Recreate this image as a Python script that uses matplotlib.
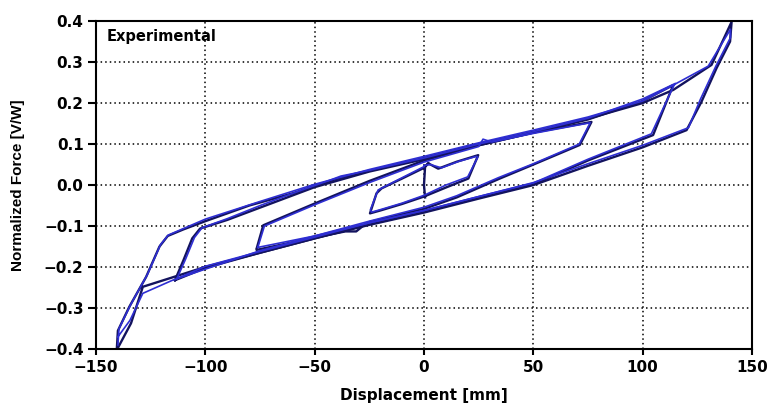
import numpy as np
import matplotlib.pyplot as plt

plt.rcParams['font.family'] = ['DejaVu Sans']
plt.rcParams['font.weight'] = 'bold'

# ±25 mm cycles
d25_a = [0.5, 0.0, 0.5, 2, 6.5, 15, 24.8, 20.3, 10, 0, -10, -20, -24.7, -21.7, -19.4, -10, 0, 2]
f25_a = [-0.03, 0.0, 0.045, 0.053, 0.04, 0.057, 0.073, 0.016, -0.006, -0.028, -0.046, -0.062, -0.069, -0.02, -0.008, 0.016, 0.042, 0.053]
d25_b = [0, 3, 8, 16, 24, 24.6, 20, 10, 0, -10, -20, -24, -24.5, -21, -10, 0]
f25_b = [0.048, 0.05, 0.042, 0.058, 0.07, 0.068, 0.02, 0.0, -0.025, -0.044, -0.06, -0.066, -0.06, -0.012, 0.018, 0.045]

# ±75 mm cycles
d75_a = [-76.5, -73.5, -50, -25, 0, 25, 50, 76.6, 71.3, 50, 34.7, 15, 0, -25, -28, -31, -36, -50, -76.5]
f75_a = [-0.154, -0.098, -0.045, 0.01, 0.06, 0.097, 0.128, 0.154, 0.098, 0.05, 0.016, -0.03, -0.058, -0.09, -0.1, -0.113, -0.113, -0.128, -0.158]
d75_b = [-76.0, -73.0, -50, -25, 0, 25, 27, 31, 50, 76.0, 71.0, 50, 34, 15, 0, -25, -50, -76.0]
f75_b = [-0.152, -0.1, -0.048, 0.006, 0.056, 0.094, 0.112, 0.105, 0.126, 0.152, 0.1, 0.052, 0.018, -0.026, -0.054, -0.088, -0.124, -0.152]

# ±115 mm cycles
d115_a = [-113.9, -110, -106, -102.4, -90, -75, -60, -50, -25, 0, 25, 50, 75, 100, 114, 104.8, 75, 50, 25, 0, -25, -50, -75, -100, -113.9]
f115_a = [-0.232, -0.183, -0.13, -0.106, -0.085, -0.055, -0.025, -0.005, 0.033, 0.063, 0.097, 0.128, 0.16, 0.205, 0.244, 0.122, 0.06, 0.002, -0.03, -0.065, -0.095, -0.13, -0.165, -0.202, -0.232]
d115_b = [-113.0, -109, -105, -101.5, -90, -75, -60, -43, -38, -25, 0, 25, 50, 75, 100, 115, 114, 104, 75, 50, 25, 0, -25, -50, -75, -100, -113.0]
f115_b = [-0.228, -0.18, -0.128, -0.104, -0.082, -0.05, -0.02, 0.012, 0.022, 0.036, 0.066, 0.1, 0.13, 0.163, 0.21, 0.248, 0.24, 0.125, 0.063, 0.005, -0.028, -0.062, -0.092, -0.127, -0.162, -0.198, -0.228]

# ±140 mm cycles
d140_a = [-140.5, -140, -134.8, -127.1, -121, -117.2, -110, -100, -80, -60, -50, -40, -25, 0, 25, 50, 75, 100, 114, 131.5, 140.7,
          140, 133.8, 126.9, 120.1, 100, 75, 50, 25, 0, -25, -50, -75, -99.7, -115, -128.6, -134, -140.1]
f140_a = [-0.4, -0.355, -0.297, -0.224, -0.15, -0.124, -0.108, -0.088, -0.05, -0.02, -0.002, 0.015, 0.035, 0.066, 0.1, 0.13, 0.162, 0.2, 0.232, 0.293, 0.398,
          0.35, 0.285, 0.203, 0.134, 0.092, 0.047, 0.0, -0.033, -0.067, -0.097, -0.13, -0.165, -0.199, -0.225, -0.248, -0.337, -0.398]
d140_b = [-140.0, -139.5, -134, -126.5, -120.5, -117, -100, -75, -50, -25, 0, 25, 50, 75, 100, 112, 130, 140.2,
          140.2, 133.5, 126.5, 121, 100, 75, 50, 25, 0, -25, -50, -75, -100, -115, -128.6, -134.5, -140.0]
f140_b = [-0.39, -0.35, -0.29, -0.218, -0.145, -0.122, -0.083, -0.04, 0.002, 0.038, 0.07, 0.103, 0.134, 0.166, 0.205, 0.238, 0.29, 0.38,
          0.36, 0.29, 0.21, 0.14, 0.097, 0.052, 0.006, -0.028, -0.062, -0.092, -0.124, -0.16, -0.205, -0.232, -0.264, -0.33, -0.37]

x_ticks = [-150, -100, -50, 0, 50, 100, 150]
y_ticks = [-0.4, -0.3, -0.2, -0.1, 0.0, 0.1, 0.2, 0.3, 0.4]

fig = plt.figure(figsize=(7.72, 4.05), dpi=100)
ax = fig.add_axes([0.1244, 0.138, 0.8496, 0.81])

navy = '#13135e'
blue = '#2e2ed2'

# dark cycles first, the lighter repeats drawn over them
for d, f in [(d25_a, f25_a), (d75_a, f75_a), (d115_a, f115_a), (d140_a, f140_a)]:
    ax.plot(d, f, color=navy, lw=1.7)
for d, f in [(d25_b, f25_b), (d75_b, f75_b), (d115_b, f115_b), (d140_b, f140_b)]:
    ax.plot(d, f, color=blue, lw=1.2)

ax.set_xlim(-150, 150)
ax.set_ylim(-0.4, 0.4)
ax.set_xticks(x_ticks)
ax.set_yticks(y_ticks)
ax.set_xticklabels([str(v).replace('-', '\u2212') for v in x_ticks])
ax.set_yticklabels([('%.1f' % v).replace('-', '\u2212') for v in y_ticks])
ax.tick_params(direction='out', width=1.5, labelsize=11, top=False, right=False)
ax.tick_params(axis='x', length=4, pad=4)
ax.tick_params(axis='y', length=6, pad=3)

ax.grid(True, color='black', linestyle=(0, (1, 2)), linewidth=1.1)
ax.set_axisbelow(True)
for s in ax.spines.values():
    s.set_linewidth(1.5)

ax.set_xlabel('Displacement [mm]', fontsize=11, fontweight='bold')
ax.xaxis.set_label_coords(0.5, -0.118)
ax.set_ylabel('Normalized Force [V/W]', fontsize=11, fontweight='bold',
              family=['Liberation Sans', 'DejaVu Sans'])
ax.yaxis.set_label_coords(-0.108, 0.5)
ax.text(0.016, 0.975, 'Experimental', transform=ax.transAxes, fontsize=10.5, fontweight='bold', va='top')

plt.savefig('out.png', dpi=100)
